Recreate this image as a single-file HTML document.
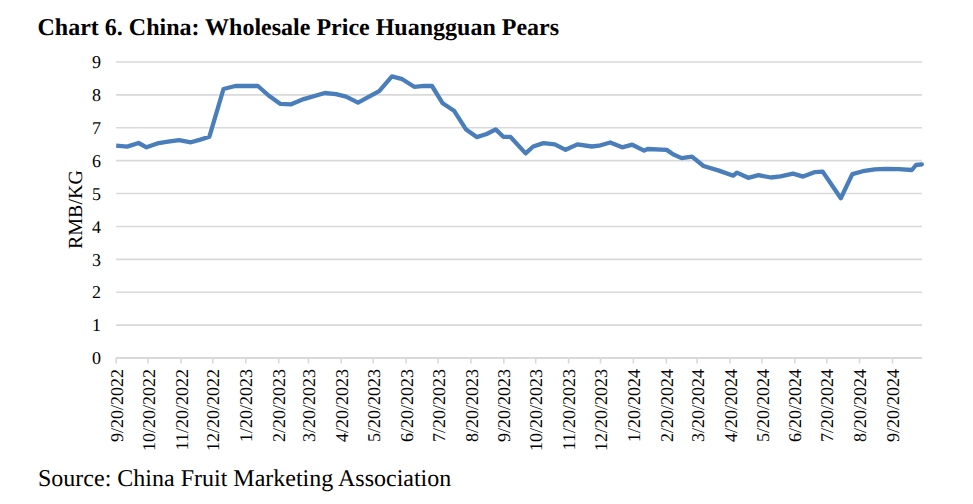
<!DOCTYPE html>
<html><head><meta charset="utf-8"><style>
html,body{margin:0;padding:0;background:#fff;width:973px;height:504px;overflow:hidden}
svg{display:block}
text{font-family:"Liberation Serif",serif;fill:#000;text-rendering:geometricPrecision}
.yl{font-size:18px}
.xl{font-size:18px}
</style></head><body>
<svg width="973" height="504" viewBox="0 0 973 504">
<text x="37.5" y="35.2" style="font-weight:bold;font-size:24px">Chart 6. China: Wholesale Price Huangguan Pears</text>
<text x="38" y="485.6" style="font-size:24px">Source: China Fruit Marketing Association</text>
<text transform="translate(82,209.6) rotate(-90)" text-anchor="middle" style="font-size:20px">RMB/KG</text>
<line x1="116" y1="325.11" x2="922" y2="325.11" stroke="#d9d9d9" stroke-width="1.6"/>
<line x1="116" y1="292.22" x2="922" y2="292.22" stroke="#d9d9d9" stroke-width="1.6"/>
<line x1="116" y1="259.33" x2="922" y2="259.33" stroke="#d9d9d9" stroke-width="1.6"/>
<line x1="116" y1="226.44" x2="922" y2="226.44" stroke="#d9d9d9" stroke-width="1.6"/>
<line x1="116" y1="193.56" x2="922" y2="193.56" stroke="#d9d9d9" stroke-width="1.6"/>
<line x1="116" y1="160.67" x2="922" y2="160.67" stroke="#d9d9d9" stroke-width="1.6"/>
<line x1="116" y1="127.78" x2="922" y2="127.78" stroke="#d9d9d9" stroke-width="1.6"/>
<line x1="116" y1="94.89" x2="922" y2="94.89" stroke="#d9d9d9" stroke-width="1.6"/>
<line x1="116" y1="62.00" x2="922" y2="62.00" stroke="#d9d9d9" stroke-width="1.6"/>
<line x1="116" y1="358" x2="922" y2="358" stroke="#d9d9d9" stroke-width="1.8"/>
<line x1="116.2" y1="358" x2="116.2" y2="363.5" stroke="#d9d9d9" stroke-width="1.6"/>
<line x1="148.1" y1="358" x2="148.1" y2="363.5" stroke="#d9d9d9" stroke-width="1.6"/>
<line x1="181.0" y1="358" x2="181.0" y2="363.5" stroke="#d9d9d9" stroke-width="1.6"/>
<line x1="212.8" y1="358" x2="212.8" y2="363.5" stroke="#d9d9d9" stroke-width="1.6"/>
<line x1="245.8" y1="358" x2="245.8" y2="363.5" stroke="#d9d9d9" stroke-width="1.6"/>
<line x1="278.7" y1="358" x2="278.7" y2="363.5" stroke="#d9d9d9" stroke-width="1.6"/>
<line x1="308.4" y1="358" x2="308.4" y2="363.5" stroke="#d9d9d9" stroke-width="1.6"/>
<line x1="341.3" y1="358" x2="341.3" y2="363.5" stroke="#d9d9d9" stroke-width="1.6"/>
<line x1="373.2" y1="358" x2="373.2" y2="363.5" stroke="#d9d9d9" stroke-width="1.6"/>
<line x1="406.1" y1="358" x2="406.1" y2="363.5" stroke="#d9d9d9" stroke-width="1.6"/>
<line x1="438.0" y1="358" x2="438.0" y2="363.5" stroke="#d9d9d9" stroke-width="1.6"/>
<line x1="470.9" y1="358" x2="470.9" y2="363.5" stroke="#d9d9d9" stroke-width="1.6"/>
<line x1="503.8" y1="358" x2="503.8" y2="363.5" stroke="#d9d9d9" stroke-width="1.6"/>
<line x1="535.7" y1="358" x2="535.7" y2="363.5" stroke="#d9d9d9" stroke-width="1.6"/>
<line x1="568.6" y1="358" x2="568.6" y2="363.5" stroke="#d9d9d9" stroke-width="1.6"/>
<line x1="600.5" y1="358" x2="600.5" y2="363.5" stroke="#d9d9d9" stroke-width="1.6"/>
<line x1="633.4" y1="358" x2="633.4" y2="363.5" stroke="#d9d9d9" stroke-width="1.6"/>
<line x1="666.3" y1="358" x2="666.3" y2="363.5" stroke="#d9d9d9" stroke-width="1.6"/>
<line x1="697.1" y1="358" x2="697.1" y2="363.5" stroke="#d9d9d9" stroke-width="1.6"/>
<line x1="730.0" y1="358" x2="730.0" y2="363.5" stroke="#d9d9d9" stroke-width="1.6"/>
<line x1="761.9" y1="358" x2="761.9" y2="363.5" stroke="#d9d9d9" stroke-width="1.6"/>
<line x1="794.8" y1="358" x2="794.8" y2="363.5" stroke="#d9d9d9" stroke-width="1.6"/>
<line x1="826.7" y1="358" x2="826.7" y2="363.5" stroke="#d9d9d9" stroke-width="1.6"/>
<line x1="859.6" y1="358" x2="859.6" y2="363.5" stroke="#d9d9d9" stroke-width="1.6"/>
<line x1="892.5" y1="358" x2="892.5" y2="363.5" stroke="#d9d9d9" stroke-width="1.6"/>
<text x="101" y="364.20" text-anchor="end" class="yl">0</text>
<text x="101" y="331.31" text-anchor="end" class="yl">1</text>
<text x="101" y="298.42" text-anchor="end" class="yl">2</text>
<text x="101" y="265.53" text-anchor="end" class="yl">3</text>
<text x="101" y="232.64" text-anchor="end" class="yl">4</text>
<text x="101" y="199.76" text-anchor="end" class="yl">5</text>
<text x="101" y="166.87" text-anchor="end" class="yl">6</text>
<text x="101" y="133.98" text-anchor="end" class="yl">7</text>
<text x="101" y="101.09" text-anchor="end" class="yl">8</text>
<text x="101" y="68.20" text-anchor="end" class="yl">9</text>
<text transform="translate(122.8,369.0) rotate(-90)" text-anchor="end" class="xl">9/20/2022</text>
<text transform="translate(154.7,369.0) rotate(-90)" text-anchor="end" class="xl">10/20/2022</text>
<text transform="translate(187.6,369.0) rotate(-90)" text-anchor="end" class="xl">11/20/2022</text>
<text transform="translate(219.4,369.0) rotate(-90)" text-anchor="end" class="xl">12/20/2022</text>
<text transform="translate(252.4,369.0) rotate(-90)" text-anchor="end" class="xl">1/20/2023</text>
<text transform="translate(285.3,369.0) rotate(-90)" text-anchor="end" class="xl">2/20/2023</text>
<text transform="translate(315.0,369.0) rotate(-90)" text-anchor="end" class="xl">3/20/2023</text>
<text transform="translate(347.9,369.0) rotate(-90)" text-anchor="end" class="xl">4/20/2023</text>
<text transform="translate(379.8,369.0) rotate(-90)" text-anchor="end" class="xl">5/20/2023</text>
<text transform="translate(412.7,369.0) rotate(-90)" text-anchor="end" class="xl">6/20/2023</text>
<text transform="translate(444.6,369.0) rotate(-90)" text-anchor="end" class="xl">7/20/2023</text>
<text transform="translate(477.5,369.0) rotate(-90)" text-anchor="end" class="xl">8/20/2023</text>
<text transform="translate(510.4,369.0) rotate(-90)" text-anchor="end" class="xl">9/20/2023</text>
<text transform="translate(542.3,369.0) rotate(-90)" text-anchor="end" class="xl">10/20/2023</text>
<text transform="translate(575.2,369.0) rotate(-90)" text-anchor="end" class="xl">11/20/2023</text>
<text transform="translate(607.1,369.0) rotate(-90)" text-anchor="end" class="xl">12/20/2023</text>
<text transform="translate(640.0,369.0) rotate(-90)" text-anchor="end" class="xl">1/20/2024</text>
<text transform="translate(672.9,369.0) rotate(-90)" text-anchor="end" class="xl">2/20/2024</text>
<text transform="translate(703.7,369.0) rotate(-90)" text-anchor="end" class="xl">3/20/2024</text>
<text transform="translate(736.6,369.0) rotate(-90)" text-anchor="end" class="xl">4/20/2024</text>
<text transform="translate(768.5,369.0) rotate(-90)" text-anchor="end" class="xl">5/20/2024</text>
<text transform="translate(801.4,369.0) rotate(-90)" text-anchor="end" class="xl">6/20/2024</text>
<text transform="translate(833.3,369.0) rotate(-90)" text-anchor="end" class="xl">7/20/2024</text>
<text transform="translate(866.2,369.0) rotate(-90)" text-anchor="end" class="xl">8/20/2024</text>
<text transform="translate(899.1,369.0) rotate(-90)" text-anchor="end" class="xl">9/20/2024</text>
<circle cx="921.8" cy="164.4" r="2.15" fill="#4a7ebb"/>
<polyline points="116.2,145.70 127.1,146.60 138.6,143.00 146.5,147.30 157.3,143.40 168.0,141.70 179.1,140.10 190.9,142.30 200.3,139.60 209.4,136.70 223.5,89.00 235.2,86.00 257.9,86.00 268.6,95.50 280.5,103.90 290.6,104.40 303.7,99.10 324.8,93.00 336.0,94.10 346.1,96.70 358.0,102.70 379.2,91.10 391.9,76.40 402.3,79.20 414.2,86.80 424.3,85.80 432.0,86.00 442.7,103.30 454.0,110.70 465.8,129.15 476.7,137.10 486.7,134.00 495.7,129.40 503.3,136.80 510.3,136.80 525.6,153.40 533.2,146.50 543.5,143.10 554.8,144.40 565.6,149.80 577.4,144.40 591.8,146.50 599.0,145.70 610.2,142.50 622.1,147.30 632.2,144.70 644.1,150.60 647.7,149.00 666.7,149.90 673.0,154.20 681.6,158.10 692.0,156.60 703.5,166.00 718.9,170.60 733.3,175.70 736.9,172.60 748.2,177.80 758.5,175.20 771.0,177.50 780.5,176.40 793.0,173.60 803.1,176.60 815.0,172.10 822.7,171.60 840.8,198.20 852.3,174.10 862.9,171.20 874.8,169.40 885.5,168.90 898.6,169.20 911.9,170.00 916.0,165.00 921.8,164.40" fill="none" stroke="#4a7ebb" stroke-width="4.3" stroke-linejoin="round" stroke-linecap="butt"/>
</svg>
</body></html>
